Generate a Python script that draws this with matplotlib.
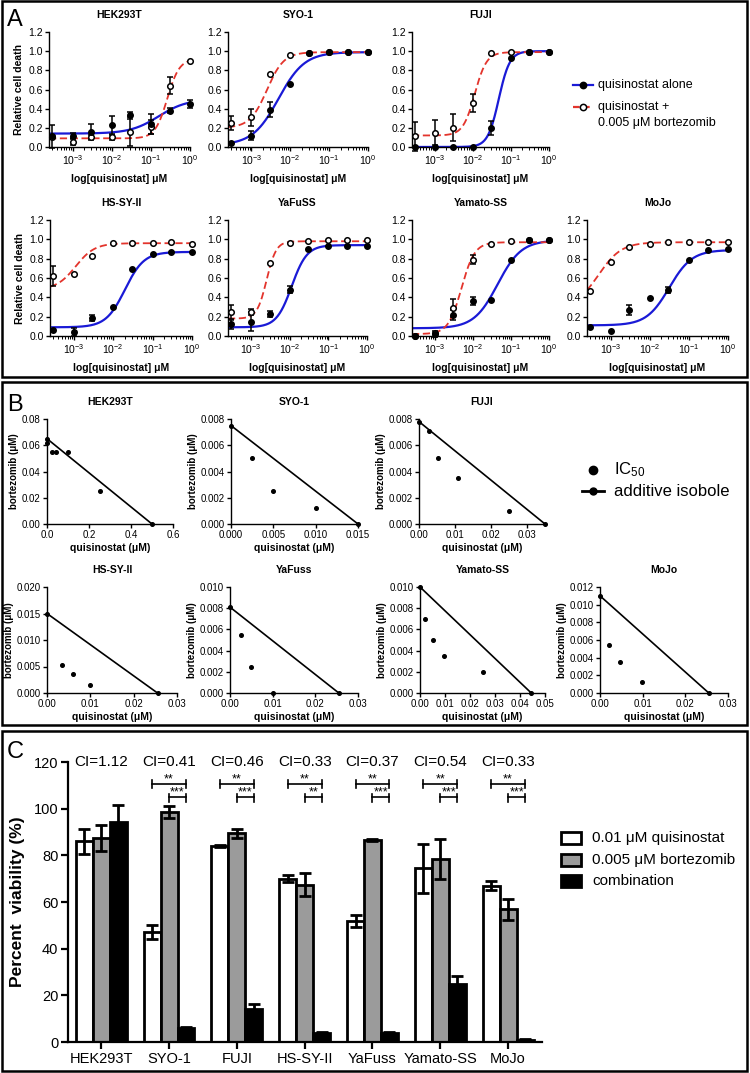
import numpy as np
import matplotlib
matplotlib.use("Agg")
import matplotlib.pyplot as plt
from matplotlib.patches import Rectangle
from matplotlib.lines import Line2D

plt.rcParams['font.family'] = ['Liberation Sans', 'DejaVu Sans']
plt.rcParams['mathtext.default'] = 'regular'

# ---------------- panel A: dose response ----------------
a_names = ['HEK293T', 'SYO-1', 'FUJI', 'HS-SY-II', 'YaFuSS', 'Yamato-SS', 'MoJo']
conc = [0.0003, 0.001, 0.003, 0.01, 0.03, 0.1, 0.3, 1.0]

alone_mean = [[0.11, 0.12, 0.16, 0.23, 0.33, 0.24, 0.38, 0.45],
              [0.04, 0.12, 0.39, 0.66, 0.98, 0.99, 0.99, 0.99],
              [0.00, 0.00, 0.00, 0.00, 0.20, 0.93, 0.99, 0.99],
              [0.06, 0.04, 0.19, 0.30, 0.69, 0.85, 0.87, 0.87],
              [0.12, 0.15, 0.23, 0.48, 0.90, 0.93, 0.93, 0.93],
              [0.00, 0.02, 0.22, 0.36, 0.37, 0.79, 0.99, 0.99],
              [0.09, 0.05, 0.27, 0.39, 0.48, 0.79, 0.89, 0.90]]
alone_err = [[0.12, 0.03, 0.08, 0.09, 0.04, 0.10, 0.03, 0.04],
             [0, 0.05, 0.08, 0, 0, 0, 0, 0],
             [0, 0, 0, 0, 0.07, 0, 0, 0],
             [0, 0.04, 0.03, 0, 0, 0, 0, 0],
             [0.05, 0.10, 0.03, 0.04, 0, 0, 0, 0],
             [0, 0.03, 0.05, 0.04, 0, 0, 0, 0],
             [0, 0, 0.05, 0, 0.03, 0, 0, 0]]
combo_mean = [[0.10, 0.05, 0.10, 0.10, 0.16, 0.21, 0.64, 0.90],
              [0.25, 0.31, 0.76, 0.96, 0.98, 0.99, 0.99, 0.99],
              [0.11, 0.15, 0.20, 0.46, 0.98, 0.99, 0.99, 0.99],
              [0.62, 0.64, 0.83, 0.96, 0.96, 0.96, 0.97, 0.95],
              [0.25, 0.25, 0.76, 0.96, 0.98, 0.99, 0.99, 0.99],
              [0.00, 0.03, 0.29, 0.79, 0.95, 0.98, 0.99, 0.99],
              [0.47, 0.77, 0.92, 0.95, 0.97, 0.97, 0.97, 0.97]]
combo_err = [[0.02, 0.03, 0.03, 0.03, 0.15, 0.07, 0.09, 0],
             [0.07, 0.09, 0, 0, 0, 0, 0, 0],
             [0.15, 0.13, 0.14, 0.09, 0, 0, 0, 0],
             [0.10, 0, 0, 0, 0, 0, 0, 0],
             [0.07, 0.03, 0, 0, 0, 0, 0, 0],
             [0, 0, 0.09, 0.05, 0, 0, 0, 0],
             [0, 0, 0, 0, 0, 0, 0, 0]]
# fitted curves: bottom, top, logEC50, hill slope
alone_fit = [[0.14, 0.50, -0.80, 1.2], [0.02, 0.99, -2.30, 1.3], [0.00, 1.00, -1.32, 3.0],
             [0.09, 0.87, -1.70, 1.8], [0.09, 0.94, -1.95, 2.2], [0.08, 0.99, -1.35, 1.4],
             [0.11, 0.89, -1.50, 1.5]]
combo_fit = [[0.09, 0.92, -0.58, 2.8], [0.20, 0.99, -2.60, 2.0], [0.12, 0.99, -1.95, 2.8],
             [0.48, 0.96, -2.95, 1.8], [0.18, 0.98, -2.60, 3.5], [0.02, 0.97, -2.30, 2.5],
             [0.30, 0.97, -3.30, 1.5]]

# ---------------- panel B: isobolograms ----------------
b_names = ['HEK293T', 'SYO-1', 'FUJI', 'HS-SY-II', 'YaFuss', 'Yamato-SS', 'MoJo']
iso_q = [0.5, 0.015, 0.035, 0.0255, 0.0255, 0.0445, 0.0255]
iso_b = [0.065, 0.0075, 0.0078, 0.015, 0.0081, 0.010, 0.011]
ic50_q = [[0.0, 0.025, 0.045, 0.1, 0.25], [0.0025, 0.005, 0.01], [0.0027, 0.0054, 0.0108, 0.025],
          [0.0035, 0.006, 0.01], [0.0026, 0.005, 0.01], [0.002, 0.005, 0.0096, 0.025],
          [0.0021, 0.0047, 0.0098]]
ic50_b = [[0.062, 0.055, 0.055, 0.055, 0.025], [0.005, 0.0025, 0.0012], [0.0071, 0.005, 0.0035, 0.001],
          [0.0053, 0.0036, 0.0015], [0.0055, 0.0025, 0.0], [0.007, 0.005, 0.0035, 0.002],
          [0.0054, 0.0035, 0.0013]]
b_xmax = [0.6, 0.015, 0.035, 0.03, 0.03, 0.05, 0.03]
b_ymax = [0.08, 0.008, 0.008, 0.02, 0.01, 0.01, 0.012]
b_xstep = [0.2, 0.005, 0.01, 0.01, 0.01, 0.01, 0.01]
b_ystep = [0.02, 0.002, 0.002, 0.005, 0.002, 0.002, 0.002]
b_xdec = [1, 3, 2, 2, 2, 2, 2]
b_ydec = [2, 3, 3, 3, 3, 3, 3]

# ---------------- panel C: viability bars ----------------
c_groups = ['HEK293T', 'SYO-1', 'FUJI', 'HS-SY-II', 'YaFuss', 'Yamato-SS', 'MoJo']
quis_mean = [86, 47, 84, 70, 52, 74.5, 67]
quis_err = [5.5, 3, 0.5, 1.5, 2.5, 10.5, 2]
bort_mean = [87.5, 98.5, 89.5, 67.5, 86.5, 78.5, 57]
bort_err = [5.5, 2.5, 2, 5, 0.5, 8.5, 4.5]
comb_mean = [94.5, 6, 14, 4, 4, 25, 1]
comb_err = [7, 0.5, 2.5, 0.3, 0.3, 3.5, 0.3]
ci_values = ['1.12', '0.41', '0.46', '0.33', '0.37', '0.54', '0.33']
sig_upper = ['', '**', '**', '**', '**', '**', '**']
sig_lower = ['', '***', '***', '**', '***', '***', '***']

W, H = 750, 1073
fig = plt.figure(figsize=(W / 100, H / 100), dpi=100)


def add_ax(l, t, r, b):
    return fig.add_axes([l / W, 1 - b / H, (r - l) / W, (b - t) / H])


def ftext(x, y, s, **kw):
    fig.text(x / W, 1 - y / H, s, **kw)


def hill(x, p):
    bot, top, ec, h = p
    return bot + (top - bot) / (1 + 10 ** ((ec - np.log10(x)) * h))


def style(ax, lw=1.0, fs=7.5):
    for s in ['top', 'right']:
        ax.spines[s].set_visible(False)
    for s in ['left', 'bottom']:
        ax.spines[s].set_linewidth(lw)
    ax.tick_params(direction='out', length=3, width=lw, labelsize=fs, pad=1.5)


# panel boxes
for top, bot in [(1, 377), (382, 725), (731, 1071)]:
    fig.add_artist(Rectangle((2 / W, 1 - bot / H), 745 / W, (bot - top) / H,
                             transform=fig.transFigure, fill=False, lw=1.8, ec='black'))
ftext(15, 20, 'A', fontsize=17, ha='center', va='center')
ftext(15, 405, 'B', fontsize=17, ha='center', va='center')
ftext(15, 752, 'C', fontsize=17, ha='center', va='center')

# ---- A ----
a_boxes = [(49, 32, 190, 147), (228, 32, 368, 147), (412, 32, 549, 147),
           (50, 220, 192, 336), (228, 220, 367, 336), (412, 220, 549, 336), (587, 220, 728, 336)]
xs = np.logspace(-3.6, 0, 300)
blue, red = '#1a1ad6', '#e3342c'
for i, (l, t, r, b) in enumerate(a_boxes):
    ax = add_ax(l, t, r, b)
    ax.set_xscale('log')
    ax.plot(xs, hill(xs, alone_fit[i]), color=blue, lw=1.6)
    ax.plot(xs, hill(xs, combo_fit[i]), color=red, lw=1.3, ls=(0, (4, 2)))
    c = np.array(conc)
    for mean, err in [(combo_mean[i], combo_err[i]), (alone_mean[i], alone_err[i])]:
        m = np.array(err) > 0
        ax.errorbar(c[m], np.array(mean)[m], yerr=np.array(err)[m], fmt='none', ecolor='black',
                    elinewidth=1.1, capsize=2.5, capthick=1.1, clip_on=False)
    ax.plot(conc, combo_mean[i], 'o', ms=4.0, mfc='white', mec='black', mew=1.1, clip_on=False)
    ax.plot(conc, alone_mean[i], 'o', ms=4.0, color='black', clip_on=False)
    ax.set_xlim(10 ** -3.6, 1.0)
    ax.set_ylim(0, 1.2)
    ax.set_yticks(np.arange(0, 1.21, 0.2))
    ax.set_yticklabels(['%.1f' % v for v in np.arange(0, 1.21, 0.2)])
    ax.set_xticks([1e-3, 1e-2, 1e-1, 1])
    style(ax)
    ax.tick_params(which='minor', length=1.8, width=0.7)
    ax.set_xlabel('log[quisinostat] \u03bcM', fontsize=7.5, fontweight='bold', labelpad=5)
    if i in (0, 3):
        ax.set_ylabel('Relative cell death', fontsize=7.5, fontweight='bold', labelpad=3)
    ftext((l + r) / 2, t - 17, a_names[i], fontsize=7.5, fontweight='bold', ha='center', va='center')

# legend A
for y, mfc, col, ls in [(85, 'black', blue, '-'), (107, 'white', red, (0, (3, 1.5)))]:
    fig.add_artist(Line2D([573 / W, 593 / W], [1 - y / H] * 2, color=col, lw=1.6, ls=ls,
                          transform=fig.transFigure))
    fig.add_artist(Line2D([583 / W], [1 - y / H], marker='o', ms=4.5, mfc=mfc, mec='black',
                          mew=1.1, transform=fig.transFigure))
ftext(598, 85, 'quisinostat alone', fontsize=9, va='center')
ftext(598, 107, 'quisinostat +', fontsize=9, va='center')
ftext(598, 123, '0.005 \u03bcM bortezomib', fontsize=9, va='center')

# ---- B ----
b_boxes = [(47, 419, 173, 524), (231, 419, 358, 524), (419, 419, 545, 524),
           (47, 587, 177, 693), (230, 587, 358, 693), (420, 587, 545, 693), (600, 587, 728, 693)]
for i, (l, t, r, b) in enumerate(b_boxes):
    ax = add_ax(l, t, r, b)
    ax.plot([0, iso_q[i]], [iso_b[i], 0], color='black', lw=1.2, marker='o', ms=2.6, clip_on=False)
    ax.plot(ic50_q[i], ic50_b[i], 'o', color='black', ms=2.6, ls='none', clip_on=False)
    ax.set_xlim(0, b_xmax[i])
    ax.set_ylim(0, b_ymax[i])
    xt = np.arange(0, b_xmax[i] + 1e-9, b_xstep[i])
    yt = np.arange(0, b_ymax[i] + 1e-9, b_ystep[i])
    ax.set_xticks(xt)
    ax.set_xticklabels([('%.' + str(b_xdec[i]) + 'f') % v for v in xt])
    ax.set_yticks(yt)
    ax.set_yticklabels([('%.' + str(b_ydec[i]) + 'f') % v for v in yt])
    style(ax, lw=1.0, fs=7)
    ax.set_xlabel('quisinostat (\u03bcM)', fontsize=7.5, fontweight='bold', labelpad=2)
    ax.set_ylabel('bortezomib (\u03bcM)', fontsize=7, fontweight='bold', labelpad=2)
    ftext((l + r) / 2, t - 17, b_names[i], fontsize=7.5, fontweight='bold', ha='center', va='center')

# legend B
fig.add_artist(Line2D([593 / W], [1 - 470 / H], marker='o', ms=6, color='black',
                      transform=fig.transFigure))
ftext(614, 470, 'IC$_{50}$', fontsize=12, va='center')
fig.add_artist(Line2D([582 / W, 604 / W], [1 - 491 / H] * 2, color='black', lw=2,
                      transform=fig.transFigure))
fig.add_artist(Line2D([593 / W], [1 - 491 / H], marker='o', ms=5, color='black',
                      transform=fig.transFigure))
ftext(614, 491, 'additive isobole', fontsize=12, va='center')

# ---- C ----
ax = add_ax(68, 762, 542, 1042)
x = np.arange(len(c_groups))
bw = 0.25
ekw = dict(elinewidth=2, capsize=4, capthick=2, ecolor='black')
ax.bar(x - bw, quis_mean, bw, color='white', edgecolor='black', lw=2, yerr=quis_err, error_kw=ekw)
ax.bar(x, bort_mean, bw, color='#9b9b9b', edgecolor='black', lw=2, yerr=bort_err, error_kw=ekw)
ax.bar(x + bw, comb_mean, bw, color='black', edgecolor='black', lw=2, yerr=comb_err, error_kw=ekw)
ax.set_xlim(-0.49, 6.5)
ax.set_ylim(0, 120)
ax.set_yticks(np.arange(0, 121, 20))
ax.set_xticks(x)
ax.set_xticklabels(c_groups)
style(ax, lw=1.6, fs=10.5)
ax.tick_params(length=5, pad=2)
ax.set_ylabel('Percent  viability (%)', fontsize=12.5, fontweight='bold', labelpad=6)
for i in range(len(c_groups)):
    ax.text(i, 120, 'CI=' + ci_values[i], ha='center', va='center', fontsize=11, clip_on=False)
    if sig_upper[i]:
        ax.plot([i - bw, i + bw], [110.5, 110.5], color='black', lw=1.2)
        for xx in (i - bw, i + bw):
            ax.plot([xx, xx], [108.7, 112.3], color='black', lw=1.2)
        ax.text(i, 109.8, sig_upper[i], ha='center', va='bottom', fontsize=9)
    if sig_lower[i]:
        ax.plot([i, i + bw], [105, 105], color='black', lw=1.2)
        for xx in (i, i + bw):
            ax.plot([xx, xx], [102.8, 106.4], color='black', lw=1.2)
        ax.text(i + bw / 2, 104.3, sig_lower[i], ha='center', va='bottom', fontsize=9)

# legend C
for y, col, lab in [(838, 'white', '0.01 \u03bcM quisinostat'), (860, '#9b9b9b', '0.005 \u03bcM bortezomib'),
                    (881, 'black', 'combination')]:
    fig.add_artist(Rectangle((561 / W, 1 - (y + 6) / H), 20 / W, 12 / H, transform=fig.transFigure,
                             fc=col, ec='black', lw=2))
    ftext(592, y, lab, fontsize=11, va='center')

fig.savefig('out.png', dpi=100)
